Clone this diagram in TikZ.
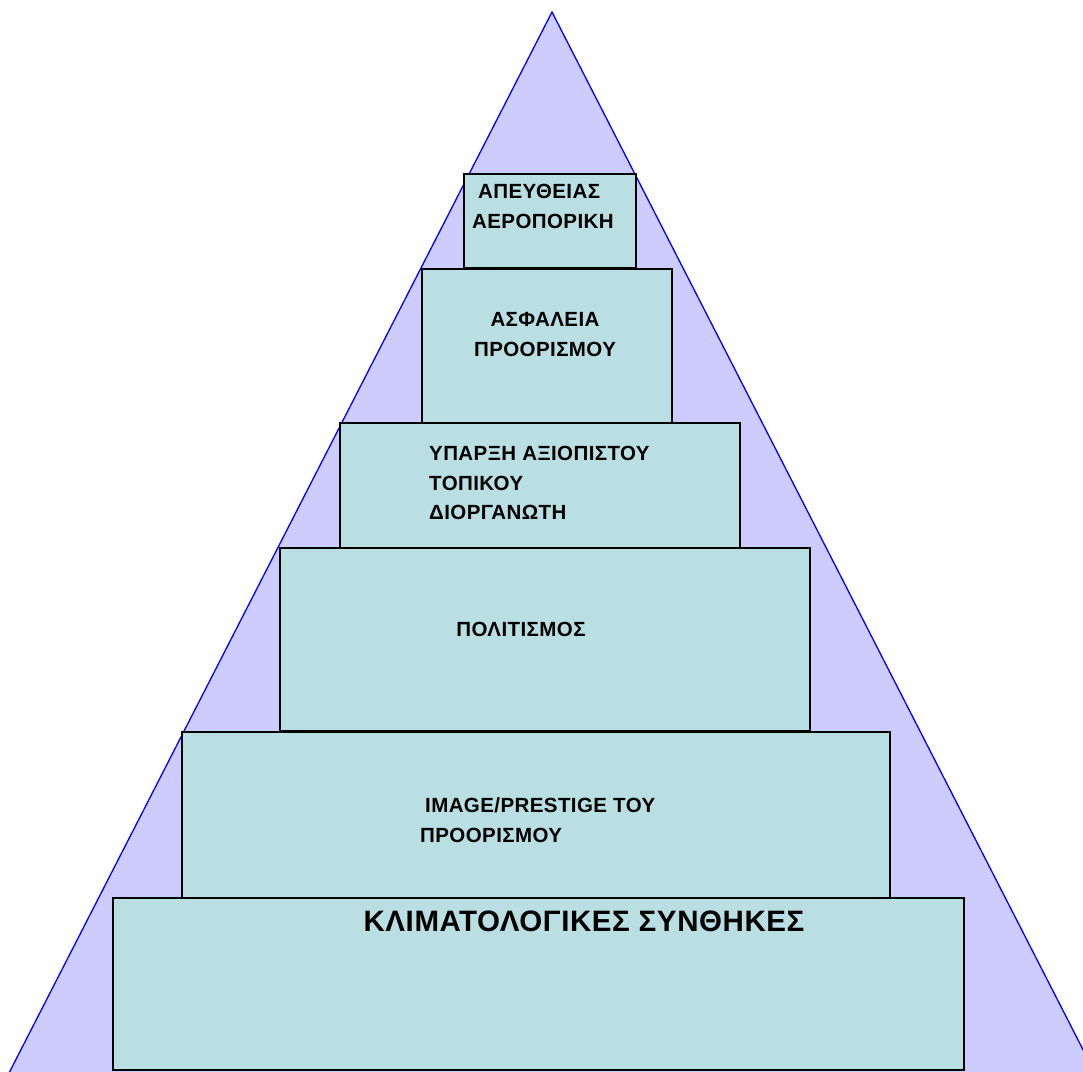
\documentclass[tikz,border=0pt]{standalone}
\usepackage{fontspec}
\setmainfont{Liberation Sans}
\newfontfamily\tierfont[LetterSpace=2]{Liberation Sans}
\newfontfamily\basefont[LetterSpace=2]{Liberation Sans}
\definecolor{pyramidfill}{HTML}{CCCCFF}
\definecolor{tierfill}{HTML}{B9DFE3}
\tikzset{
  tier/.style={draw=black, fill=tierfill, line width=1.4pt},
  lbl/.style={inner sep=0pt, font=\tierfont\bfseries\fontsize{20.5}{24}\selectfont},
  biglbl/.style={inner sep=0pt, font=\basefont\bfseries\fontsize{29.5}{35}\selectfont}
}
\begin{document}
\begin{tikzpicture}[x=1pt,y=-1pt]
\useasboundingbox (0,0) rectangle (1083,1071);
\begin{scope}
\clip (0,0) rectangle (1083,1071);
% background pyramid
\draw[fill=pyramidfill, draw=blue, line width=1.3pt] (552,12) -- (8,1075) -- (1096,1075) -- cycle;
\end{scope}
% tiers, from top to bottom
\draw[tier] (464,174) rectangle (636,268);
\draw[tier] (422,269) rectangle (672,424);
\draw[tier] (340,423) rectangle (740,548);
\draw[tier] (280,548) rectangle (810,731);
\draw[tier] (182,732) rectangle (890,898);
\draw[tier] (113,898) rectangle (964,1070);
% labels
\node[lbl, anchor=base west] (t1a) at (478,198) {ΑΠΕΥΘΕΙΑΣ};
\node[lbl, anchor=base west] (t1b) at (472,228) {ΑΕΡΟΠΟΡΙΚΗ};
\node[lbl, anchor=base] (t2a) at (545,326) {ΑΣΦΑΛΕΙΑ};
\node[lbl, anchor=base] (t2b) at (545,356) {ΠΡΟΟΡΙΣΜΟΥ};
\node[lbl, anchor=base west] (t3a) at (429,460) {ΥΠΑΡΞΗ ΑΞΙΟΠΙΣΤΟΥ};
\node[lbl, anchor=base west] (t3b) at (429,490) {ΤΟΠΙΚΟΥ};
\node[lbl, anchor=base west] (t3c) at (429,519) {ΔΙΟΡΓΑΝΩΤΗ};
\node[lbl, anchor=base] (t4) at (521,636) {ΠΟΛΙΤΙΣΜΟΣ};
\node[lbl, anchor=base west] (t5a) at (425,812) {IMAGE/PRESTIGE ΤΟΥ};
\node[lbl, anchor=base west] (t5b) at (420,842) {ΠΡΟΟΡΙΣΜΟΥ};
\node[biglbl, anchor=base] (t6) at (584,931) {ΚΛΙΜΑΤΟΛΟΓΙΚΕΣ ΣΥΝΘΗΚΕΣ};
\end{tikzpicture}
\end{document}
